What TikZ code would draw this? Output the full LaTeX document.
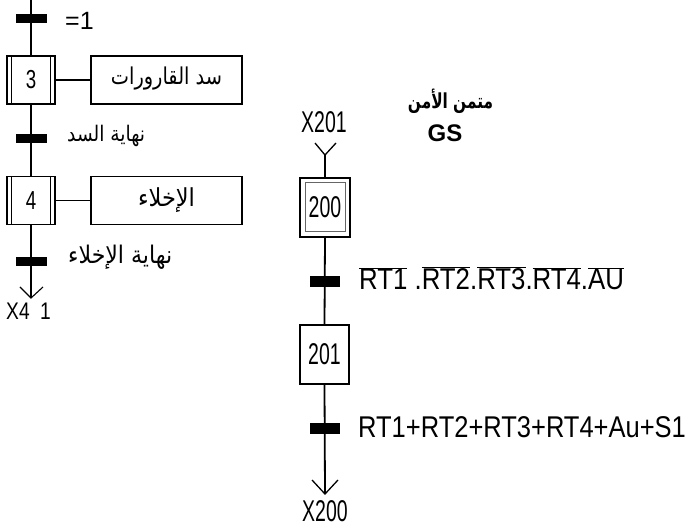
\documentclass[tikz,border=0pt]{standalone}
\usepackage{fontspec}
\setmainfont{Liberation Sans}
\newfontfamily\arabicfont[Script=Arabic]{DejaVu Sans}
\TeXXeTstate=1
\newcommand\sx[2]{\scalebox{#1}[1]{#2}}
\newcommand\sy[2]{\scalebox{1}[#1]{#2}}
\newcommand\ovl[1]{$\overline{\hbox{#1}}$}
\begin{document}
\begin{tikzpicture}[x=1pt,y=-1pt,
  vline/.style={line width=1.3pt},
  vlineR/.style={line width=1.8pt},
  trbar/.style={rectangle,fill=black,draw=none,minimum width=31pt,minimum height=9pt,inner sep=0pt},
  trbarR/.style={rectangle,fill=black,draw=none,minimum width=30pt,minimum height=11pt,inner sep=0pt},
  lstep/.style={rectangle,draw,line width=1.2pt,minimum width=48pt,minimum height=48pt,inner sep=0pt,font=\fontsize{26}{30}\selectfont},
  action/.style={rectangle,draw,line width=1.2pt,minimum width=151pt,minimum height=48pt,inner sep=0pt},
  rstep/.style={rectangle,draw,line width=1.5pt,minimum width=49pt,minimum height=59pt,inner sep=0pt,font=\fontsize{30}{34}\selectfont},
  lbl/.style={inner sep=0pt},
  bigtxt/.style={inner sep=0pt,font=\fontsize{30}{34}\selectfont},
]
\useasboundingbox (0,0) rectangle (691,529);

% ---------- left chart ----------
\coordinate (top) at (31,0);
\node[lstep] (s3) at (31,80) {\sx{0.72}{3}};
\node[action] (a3) at (166.5,80) {};
\node[lstep] (s4) at (31,200.5) {\sx{0.72}{4}};
\node[action] (a4) at (166.5,200.5) {};
\coordinate (e4) at (31,298);

\draw[vline] (top) -- (s3.north);
\draw[vline] (s3.south) -- (s4.north);
\draw[vline] (s4.south) -- (e4);
\draw[line width=1.1pt] ([shift={(-11,-11)}]e4) -- (e4) -- ([shift={(12,-11)}]e4);
\draw[line width=1.1pt] (s3.east) -- (a3.west);
\draw[line width=1.1pt] (s4.east) -- (a4.west);
\foreach \s in {s3,s4}{
  \draw[line width=0.8pt] ([xshift=5pt]\s.north west) -- ([xshift=5pt]\s.south west);
  \draw[line width=0.8pt] ([xshift=-5pt]\s.north east) -- ([xshift=-5pt]\s.south east);
}
\node[trbar] (t0) at (31,19) {};
\node[trbar] (t3) at (31,138.5) {};
\node[trbar] (t4) at (31,261.5) {};

\node[lbl,anchor=west,font=\fontsize{25}{28}\selectfont] (c0) at (65,20.5) {=1};
\node[lbl] (a3t) at (166.5,79) {\sy{1.2}{\resizebox{111pt}{!}{\arabicfont\beginR سد القارورات\endR}}};
\node[lbl] (a4t) at (166.5,200) {\sy{1.1}{\resizebox{57pt}{!}{\arabicfont\beginR الإخلاء\endR}}};
\node[lbl,anchor=west] (c3) at (67,136) {\sy{1.15}{\resizebox{78pt}{!}{\arabicfont\beginR نهاية السد\endR}}};
\node[lbl,anchor=west] (c4) at (68,257.5) {\sy{1.1}{\resizebox{104pt}{!}{\arabicfont\beginR نهاية الإخلاء\endR}}};
\node[lbl,anchor=west,font=\fontsize{24}{28}\selectfont] (x4) at (6,311.5) {\sx{0.8}{X4\hspace{13pt}1}};

% ---------- right chart ----------
\node[lbl] (tit) at (450.5,101) {\sy{1.35}{\resizebox{85pt}{!}{\arabicfont\bfseries\beginR متمن الأمن\endR}}};
\node[lbl,font=\fontsize{24}{28}\selectfont\bfseries] (gs) at (445,133.5) {GS};

\node[bigtxt] (x201) at (324,122.5) {\sx{0.65}{X201}};
\coordinate (v1) at (325,155);
\node[rstep,line width=1.8pt,minimum width=50pt] (s200) at (325,207.5) {};
\node[rectangle,draw=black!60,line width=1pt,minimum width=40pt,minimum height=49pt,inner sep=0pt,font=\fontsize{30}{34}\selectfont] (s200i) at (s200.center) {\sx{0.65}{200}};
\node[rstep] (s201) at (324.5,354.5) {\sx{0.65}{201}};
\coordinate (e201) at (325,494);

\draw[line width=1.3pt] ([shift={(-10,-12)}]v1) -- (v1) -- ([shift={(11,-12)}]v1);
\draw[vlineR] (v1) -- (s200.north);
\draw[vlineR] (s200.south) -- (s201.north);
\draw[vlineR] (s201.south) -- (e201);
\draw[line width=1.3pt] ([shift={(-13,-14)}]e201) -- (e201) -- ([shift={(13,-14)}]e201);
\node[trbarR] (t200) at (325,281.5) {};
\node[trbarR] (t201) at (325,428) {};

\node[bigtxt] (x200) at (325,511) {\sx{0.65}{X200}};
\node[bigtxt,anchor=base west] (c200) at (359,290) {\sx{0.86}{\ovl{RT1} .\ovl{RT2}.\ovl{RT3}.\ovl{RT4}.\ovl{AU}}};
\node[bigtxt,anchor=base west] (c201) at (358,437) {\sx{0.85}{RT1+RT2+RT3+RT4+Au+S1}};
\end{tikzpicture}
\end{document}
